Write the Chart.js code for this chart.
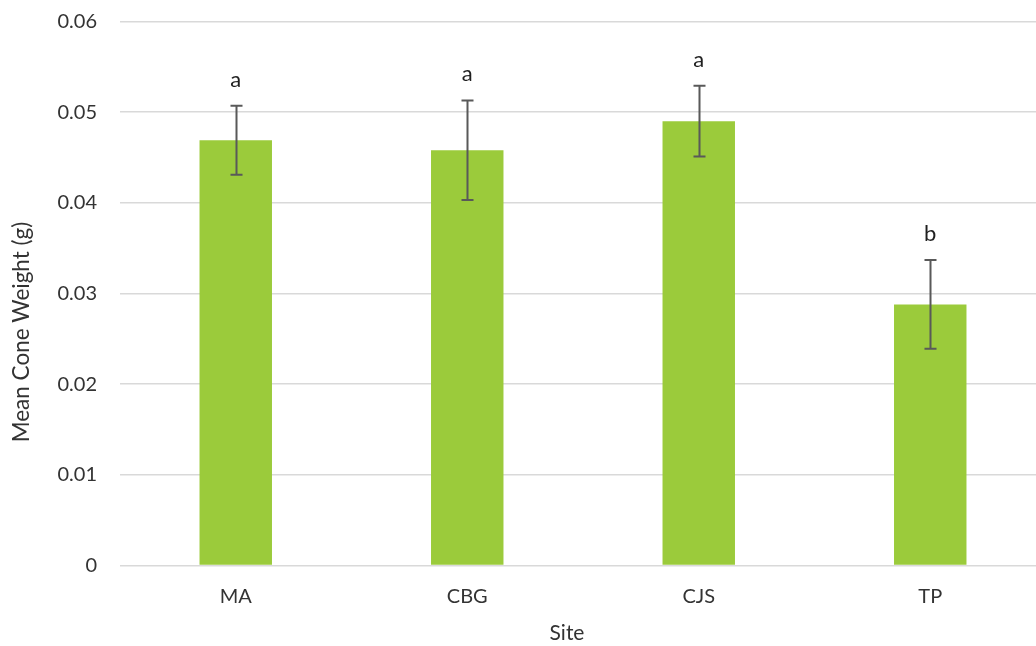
<!DOCTYPE html>
<html>
<head>
<meta charset="utf-8">
<script src="https://cdn.jsdelivr.net/npm/chart.js@4.4.1/dist/chart.umd.min.js"></script>
<style>
  html, body { margin: 0; padding: 0; background: #ffffff; overflow: hidden; }
  #wrap { width: 1050px; height: 646px; }
</style>
</head>
<body>
<div id="wrap"><canvas id="chart" width="1050" height="646"></canvas></div>
<script>
// Mean cone weight per site, with error bars and significance groups
const sites = ['MA', 'CBG', 'CJS', 'TP'];
const meanWeight = [0.0469, 0.0458, 0.0490, 0.0288];
const errorSize = [0.0038, 0.0055, 0.0039, 0.0049];
const groupLetters = ['a', 'a', 'a', 'b'];
const yTicks = [0, 0.01, 0.02, 0.03, 0.04, 0.05, 0.06];
const xTitle = 'Site';
const yTitle = 'Mean Cone Weight (g)';

const FONT = 'Lato, "Liberation Sans", sans-serif';
const TEXT = '#333333';

// Draws the error bars and the group letters above them
const errorBarPlugin = {
  id: 'errorBars',
  afterDatasetsDraw(chart) {
    const ctx = chart.ctx;
    const y = chart.scales.y;
    const meta = chart.getDatasetMeta(0);
    ctx.save();
    meta.data.forEach((bar, i) => {
      const x = Math.round(bar.x) + 0.5;
      const top = y.getPixelForValue(meanWeight[i] + errorSize[i]);
      const bottom = y.getPixelForValue(meanWeight[i] - errorSize[i]);
      ctx.strokeStyle = '#595959';
      ctx.lineWidth = 2;
      ctx.beginPath();
      ctx.moveTo(x, top);
      ctx.lineTo(x, bottom);
      ctx.moveTo(x - 6, top);
      ctx.lineTo(x + 6, top);
      ctx.moveTo(x - 6, bottom);
      ctx.lineTo(x + 6, bottom);
      ctx.stroke();

      ctx.fillStyle = '#1f1f1f';
      ctx.font = '22px ' + FONT;
      ctx.textAlign = 'center';
      ctx.textBaseline = 'middle';
      ctx.fillText(groupLetters[i], bar.x, top - 26);
    });
    ctx.restore();
  }
};

// Axis titles, placed relative to the visible frame
const axisTitlePlugin = {
  id: 'axisTitles',
  afterDraw(chart) {
    const ctx = chart.ctx;
    ctx.save();
    ctx.fillStyle = TEXT;
    ctx.textAlign = 'center';
    ctx.textBaseline = 'middle';
    ctx.font = '21px ' + FONT;
    ctx.fillText(xTitle, 567, 633);
    ctx.translate(22, 332);
    ctx.rotate(-Math.PI / 2);
    ctx.font = '22.5px ' + FONT;
    ctx.fillText(yTitle, 0, 0);
    ctx.restore();
  }
};

new Chart(document.getElementById('chart'), {
  type: 'bar',
  data: {
    labels: sites,
    datasets: [{
      data: meanWeight,
      backgroundColor: '#9BCB3B',
      borderWidth: 0,
      barPercentage: 0.313,
      categoryPercentage: 1.0
    }]
  },
  options: {
    responsive: false,
    animation: false,
    layout: { padding: { top: 0, right: 4, bottom: 0, left: 0 } },
    plugins: {
      legend: { display: false },
      tooltip: { enabled: false }
    },
    scales: {
      x: {
        grid: { display: false, drawTicks: false },
        border: { display: false },
        ticks: { color: TEXT, font: { family: FONT, size: 20 }, padding: 19 },
        title: { display: false },
        afterFit(scale) { scale.height = 80.5; }
      },
      y: {
        min: 0,
        max: 0.06,
        afterBuildTicks(scale) { scale.ticks = yTicks.map(v => ({ value: v })); },
        grid: { color: '#d9d9d9', lineWidth: 1.5, drawTicks: false },
        border: { display: false },
        ticks: {
          color: TEXT,
          font: { family: FONT, size: 20 },
          padding: 23,
          callback: v => String(v)
        },
        title: { display: false },
        afterFit(scale) {
          scale.width = 120;
          scale.paddingTop = 21.5;
          scale.paddingBottom = 0;
        }
      }
    }
  },
  plugins: [errorBarPlugin, axisTitlePlugin]
});
</script>
</body>
</html>
